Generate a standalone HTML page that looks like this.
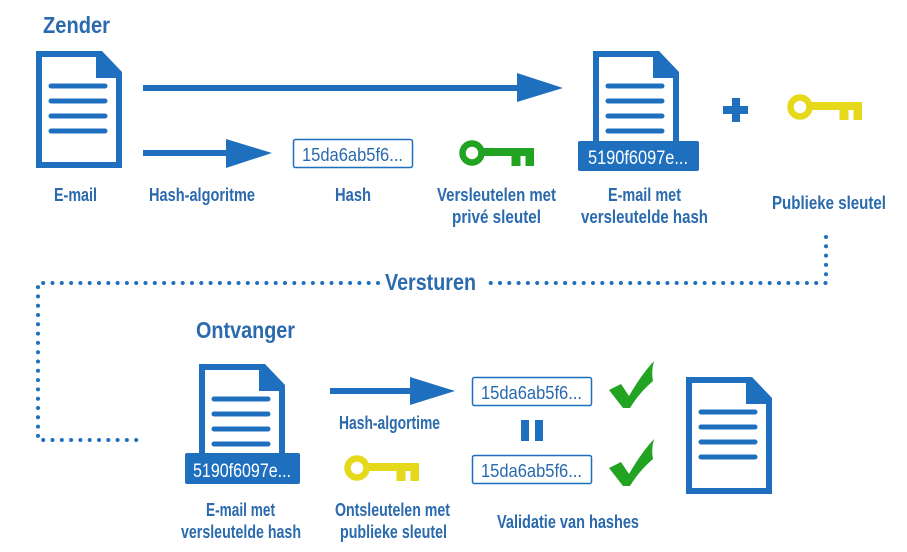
<!DOCTYPE html>
<html><head><meta charset="utf-8"><style>
html,body{margin:0;padding:0;background:#fff;}
svg{display:block;}
text{font-family:"Liberation Sans",sans-serif;font-weight:bold;fill:#2a6aad;}
</style></head><body>
<svg width="907" height="552" viewBox="0 0 907 552" xmlns="http://www.w3.org/2000/svg">
<defs>
<g id="doc">
<path d="M0,0 H66 L86,21 V117 H0 Z" fill="#1f6fbf"/>
<path d="M6,6 H60 V27 H80 V111 H6 Z" fill="#fff"/>
<g stroke="#1f6fbf" stroke-width="5" stroke-linecap="round">
<line x1="15" y1="35" x2="69" y2="35"/><line x1="15" y1="50" x2="69" y2="50"/>
<line x1="15" y1="65" x2="69" y2="65"/><line x1="15" y1="80" x2="69" y2="80"/></g>
</g>
<g id="key">
<circle cx="0" cy="0" r="9.5" fill="none" stroke-width="6.5"/>
<rect x="12" y="-4.5" width="49" height="7"/>
<rect x="40" y="-4.5" width="8" height="17"/>
<rect x="54" y="-4.5" width="7.5" height="17"/>
</g>
<g id="check"><path d="M0,29 L12,23 L20,35 Q32,14 45,0 Q42,10 44,20 Q30,32 21,47 L14,47 Z"/></g>
</defs>

<text x="43" y="33" font-size="23" textLength="67" lengthAdjust="spacingAndGlyphs">Zender</text>
<use href="#doc" x="36" y="51"/>
<line x1="143" y1="88" x2="522" y2="88" stroke="#1f6fbf" stroke-width="6"/>
<polygon points="517,73 563,88 517,102" fill="#1f6fbf"/>
<line x1="143" y1="153" x2="230" y2="153" stroke="#1f6fbf" stroke-width="6"/>
<polygon points="226,139 272,153 226,168" fill="#1f6fbf"/>
<rect x="293.5" y="139.5" width="119" height="28" rx="2" fill="#fff" stroke="#1f6fbf" stroke-width="1.5"/>
<text x="302" y="161" font-size="18" textLength="101" lengthAdjust="spacingAndGlyphs" style="font-weight:normal">15da6ab5f6...</text>
<g fill="#22a322" stroke="#22a322"><use href="#key" x="472" y="153"/></g>
<use href="#doc" x="593" y="51"/>
<rect x="578" y="141" width="121" height="30" rx="2" fill="#1f6fbf"/>
<text x="588" y="164" font-size="19" textLength="100" lengthAdjust="spacingAndGlyphs" style="fill:#fff;font-weight:normal">5190f6097e...</text>
<rect x="723" y="106" width="25" height="8" fill="#1f6fbf"/><rect x="732" y="98" width="8" height="24" fill="#1f6fbf"/>
<g fill="#e6d81a" stroke="#e6d81a"><use href="#key" x="800" y="107"/></g>

<g font-size="18">
<text x="54" y="201" textLength="43" lengthAdjust="spacingAndGlyphs">E-mail</text>
<text x="149" y="201" textLength="106" lengthAdjust="spacingAndGlyphs">Hash-algoritme</text>
<text x="335" y="201" textLength="36" lengthAdjust="spacingAndGlyphs">Hash</text>
<text x="437" y="201" textLength="119" lengthAdjust="spacingAndGlyphs">Versleutelen met</text>
<text x="452" y="223" textLength="89" lengthAdjust="spacingAndGlyphs">privé sleutel</text>
<text x="608" y="201" textLength="73" lengthAdjust="spacingAndGlyphs">E-mail met</text>
<text x="581" y="223" textLength="127" lengthAdjust="spacingAndGlyphs">versleutelde hash</text>
<text x="772" y="209" textLength="114" lengthAdjust="spacingAndGlyphs">Publieke sleutel</text>
</g>

<g fill="none" stroke="#1f6fbf" stroke-width="4" stroke-linecap="round" stroke-dasharray="0 9.3">
<path d="M826,237 V283 H482"/>
<path d="M378,283 H38 V440 H143"/>
</g>
<text x="385" y="290" font-size="23" textLength="91" lengthAdjust="spacingAndGlyphs">Versturen</text>

<text x="196" y="338" font-size="23" textLength="99" lengthAdjust="spacingAndGlyphs">Ontvanger</text>
<use href="#doc" x="199" y="364"/>
<rect x="185" y="453" width="115" height="31" rx="2" fill="#1f6fbf"/>
<text x="193" y="477" font-size="19" textLength="98" lengthAdjust="spacingAndGlyphs" style="fill:#fff;font-weight:normal">5190f6097e...</text>

<line x1="330" y1="391" x2="413" y2="391" stroke="#1f6fbf" stroke-width="6"/>
<polygon points="410,377 455,391 410,405" fill="#1f6fbf"/>
<rect x="472.5" y="377.5" width="119" height="28" rx="2" fill="#fff" stroke="#1f6fbf" stroke-width="1.5"/>
<text x="481" y="399" font-size="18" textLength="101" lengthAdjust="spacingAndGlyphs" style="font-weight:normal">15da6ab5f6...</text>
<rect x="472.5" y="455.5" width="119" height="28" rx="2" fill="#fff" stroke="#1f6fbf" stroke-width="1.5"/>
<text x="481" y="477" font-size="18" textLength="101" lengthAdjust="spacingAndGlyphs" style="font-weight:normal">15da6ab5f6...</text>
<rect x="521" y="420" width="8" height="21" fill="#1f6fbf"/><rect x="535" y="420" width="8" height="21" fill="#1f6fbf"/>
<g fill="#22a322"><use href="#check" x="609" y="361"/><use href="#check" x="609" y="439"/></g>
<g fill="#e6d81a" stroke="#e6d81a"><use href="#key" x="357" y="468"/></g>
<use href="#doc" x="686" y="377"/>

<g font-size="18">
<text x="339" y="429" textLength="101" lengthAdjust="spacingAndGlyphs">Hash-algortime</text>
<text x="206" y="516" textLength="69" lengthAdjust="spacingAndGlyphs">E-mail met</text>
<text x="181" y="538" textLength="120" lengthAdjust="spacingAndGlyphs">versleutelde hash</text>
<text x="335" y="516" textLength="115" lengthAdjust="spacingAndGlyphs">Ontsleutelen met</text>
<text x="340" y="538" textLength="107" lengthAdjust="spacingAndGlyphs">publieke sleutel</text>
<text x="497" y="528" textLength="142" lengthAdjust="spacingAndGlyphs">Validatie van hashes</text>
</g>
</svg>
</body></html>
